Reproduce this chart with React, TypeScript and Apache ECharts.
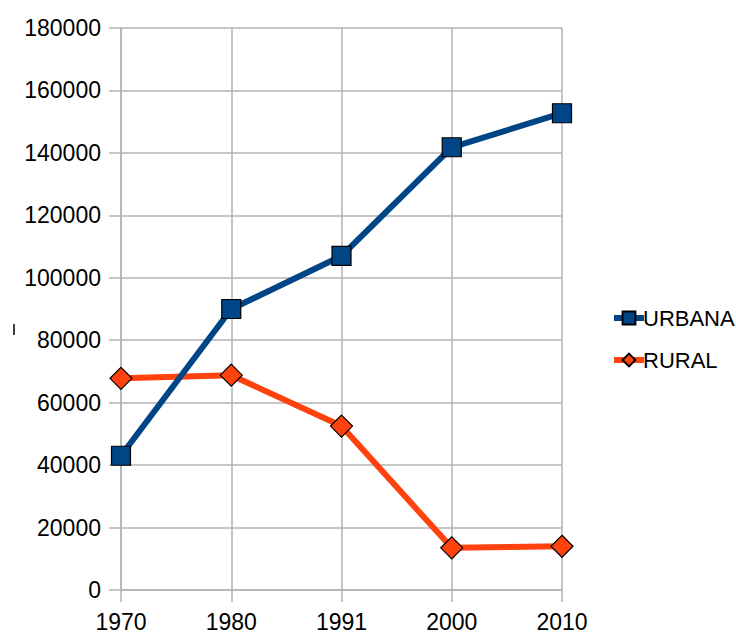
import React, { useEffect, useRef } from "react";
import * as echarts from "echarts";

const years = ["1970", "1980", "1991", "2000", "2010"];
const urbana = [43000, 90000, 107000, 141800, 152700];
const rural = [67800, 68800, 52500, 13500, 14000];

export default function App() {
  const ref = useRef<HTMLDivElement>(null);
  useEffect(() => {
    const chart = echarts.init(ref.current!, null, { renderer: "svg" });
    const grid = "#b3b3b3";
    chart.setOption({
      animation: false,
      backgroundColor: "#ffffff",
      textStyle: { fontFamily: "Liberation Sans, Arial, sans-serif" },
      grid: { left: 121, right: 174, top: 28, bottom: 44 },
      xAxis: {
        type: "category",
        data: years,
        boundaryGap: false,
        axisLine: { show: true, lineStyle: { color: grid, width: 1.5 } },
        axisTick: { show: true, length: 12, lineStyle: { color: grid, width: 1.5 } },
        splitLine: { show: true, lineStyle: { color: grid, width: 1.5 } },
        axisLabel: { color: "#000", fontSize: 23, margin: 20 },
      },
      yAxis: {
        type: "value",
        min: 0,
        max: 180000,
        interval: 20000,
        axisLine: { show: true, lineStyle: { color: grid, width: 1.5 } },
        axisTick: { show: true, length: 12, lineStyle: { color: grid, width: 1.5 } },
        splitLine: { show: true, lineStyle: { color: grid, width: 1.5 } },
        axisLabel: { color: "#000", fontSize: 23, margin: 20, formatter: (v: number) => String(v) },
      },
      legend: {
        orient: "vertical",
        left: 606,
        top: 302,
        itemWidth: 30,
        itemHeight: 16,
        itemGap: 20,
        lineStyle: { width: 6 },
        textStyle: { color: "#000", fontSize: 22, padding: [0, 0, 0, -6] },
        data: ["URBANA", "RURAL"],
      },
      graphic: [
        { type: "line", shape: { x1: 14, y1: 324, x2: 14, y2: 335 }, style: { stroke: "#000", lineWidth: 1.5 } },
      ],
      series: [
        {
          name: "URBANA",
          type: "line",
          data: urbana,
          symbol: "rect",
          symbolSize: 19,
          lineStyle: { color: "#004586", width: 6 },
          itemStyle: { color: "#004586", borderColor: "#000", borderWidth: 1.2 },
          z: 3,
        },
        {
          name: "RURAL",
          type: "line",
          data: rural,
          symbol: "diamond",
          symbolSize: 22,
          lineStyle: { color: "#ff420e", width: 6 },
          itemStyle: { color: "#ff420e", borderColor: "#000", borderWidth: 1.2 },
          z: 2,
        },
      ],
    });
    return () => chart.dispose();
  }, []);
  return <div ref={ref} style={{ width: 736, height: 634, position: "absolute", left: 0, top: 0 }} />;
}
